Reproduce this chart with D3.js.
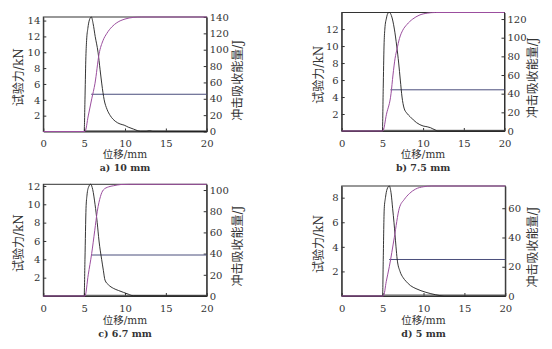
<!DOCTYPE html>
<html><head><meta charset="utf-8">
<script src="https://cdn.jsdelivr.net/npm/d3@7"></script>
<style>
html,body{margin:0;padding:0;background:#fff;}
svg{display:block;}
text{fill:#333;}
</style></head>
<body>
<svg id="chart" width="552" height="349"></svg>
<script>
// ---- data ----
const captions = ["a) 10 mm", "b) 7.5 mm", "c) 6.7 mm", "d) 5 mm"];
const xTicks = [0, 5, 10, 15, 20];
const forceTicks = [[2,4,6,8,10,12,14],[2,4,6,8,10,12],[2,4,6,8,10,12],[2,4,6,8]];
const energyTicks = [[0,20,40,60,80,100,120,140],[0,20,40,60,80,100,120],[0,20,40,60,80,100],[0,20,40,60]];
const forceMax = [14.45, 13.95, 12.18, 8.95];
const energyMax = [140, 127, 105.4, 75.2];
const hLevel = [4.7, 4.85, 4.47, 2.97];
const hStart = [5.86, 5.98, 5.9, 5.8];
const baseLevel = [0.08, 0.08, 0.08, 0.08];

const forceA = [[0,0],[5.0,0],[5.1,4],[5.2,9],[5.3,11.5],[5.45,13],[5.65,14.1],[5.88,14.45],[6.1,13.6],[6.35,12],[6.7,10],[6.95,7.8],[7.16,6],[7.45,4],[7.8,2.8],[8.2,2.0],[8.8,1.3],[9.4,0.95],[9.9,0.8],[10.4,0.55],[11.05,0.3],[11.5,0.12],[11.9,0.03],[12.6,0.03],[13.0,0.1],[13.4,0.02],[20,0]];
const energyA = [[0,0],[5.1,0],[5.5,19],[5.93,40],[6.33,59],[6.83,95],[7.3,111],[7.78,120],[8.4,128],[9.0,133],[10,137.5],[11,139.5],[12,140],[20,140]];

const forceB = [[0,0],[5.0,0],[5.1,5],[5.2,10],[5.3,12],[5.5,13.3],[5.7,13.9],[5.86,13.95],[6.1,13.6],[6.47,12],[6.76,10],[7.0,8],[7.2,6],[7.41,4],[7.66,2.7],[8.0,2.1],[8.4,1.69],[9.2,0.98],[10.0,0.59],[10.5,0.5],[10.9,0.39],[11.2,0.25],[11.5,0.12],[11.8,0],[20,0]];
const energyB = [[0,0],[5.05,0],[5.5,18],[6.06,40],[6.3,60],[6.56,78],[6.8,88],[7.09,99],[7.5,108],[8.0,114],[8.73,120],[9.5,124],[10.5,126.3],[11.5,127],[20,127]];

const forceC = [[0,0],[5.0,0],[5.1,4],[5.23,9.56],[5.35,11],[5.55,11.9],[5.8,12.18],[6.05,11.6],[6.33,10],[6.6,8],[6.82,6],[7.14,4],[7.35,2.8],[7.55,1.74],[8.0,1.2],[8.57,0.84],[9.2,0.6],[9.8,0.4],[10.4,0.2],[11.0,0.03],[20,0]];
const energyC = [[0,0],[5.1,0],[5.5,20],[5.92,40],[6.3,62],[6.61,80],[7.0,94],[7.34,100],[8.0,103],[8.57,104],[9.5,105.2],[10.5,105.4],[20,105.4]];

const forceD = [[0,0],[5.0,0],[5.08,3],[5.2,7.1],[5.35,8],[5.55,8.7],[5.82,8.95],[6.05,8.3],[6.23,7.1],[6.39,6],[6.64,4],[6.78,3.0],[7.13,2],[7.5,1.5],[7.86,1.2],[8.4,0.85],[9.08,0.6],[10.3,0.3],[11.5,0.1],[12.5,0],[20,0]];
const energyD = [[0,0],[5.1,0],[5.45,10],[5.82,20],[6.43,40],[7.04,60],[7.65,66],[8.27,70],[9.0,73],[10,74.7],[11,75.2],[20,75.2]];

const forceSeries = [forceA, forceB, forceC, forceD];
const energySeries = [energyA, energyB, energyC, energyD];

// ---- layout ----
const layout = [
  {l:43.3, r:206.7, t:17,    b:131.5, tickOff:8,  titleY:154,   capY:167.5, ylx:19,    yrx:237.3},
  {l:341.7,r:504.5, t:12.5,  b:131,   tickOff:8.5,titleY:154,   capY:167.5, ylx:318.7, yrx:532.7},
  {l:43.3, r:206.7, t:184.3, b:296,   tickOff:9,  titleY:320,   capY:334,   ylx:19,    yrx:237.3},
  {l:341.7,r:505.3, t:186,   b:296,   tickOff:9,  titleY:320,   capY:334,   ylx:318.7, yrx:532.7}
];

const svg = d3.select("#chart");
const numFont = "'DejaVu Serif', 'Liberation Serif', serif";
const cjkFont = "'DejaVu Serif', 'Noto Sans CJK SC', sans-serif";
const axisColor = "#333";

layout.forEach((L, i) => {
  const x = d3.scaleLinear().domain([0, 20]).range([L.l, L.r]);
  const yF = d3.scaleLinear().domain([0, forceMax[i]]).range([L.b, L.t]);
  const yE = d3.scaleLinear().domain([0, energyMax[i]]).range([L.b, L.t]);
  const g = svg.append("g");

  const lineF = d3.line().x(d => x(d[0])).y(d => yF(d[1])).curve(d3.curveMonotoneX);
  const lineE = d3.line().x(d => x(d[0])).y(d => yE(d[1])).curve(d3.curveMonotoneX);

  // frame
  g.append("rect").attr("x", L.l).attr("y", L.t)
    .attr("width", L.r - L.l).attr("height", L.b - L.t)
    .attr("fill", "none").attr("stroke", axisColor).attr("stroke-width", 1);

  // axes
  const ax = g.append("g").attr("transform", `translate(0,${L.b})`)
    .call(d3.axisBottom(x).tickValues(xTicks).tickSize(-3).tickSizeOuter(0).tickPadding(L.tickOff));
  const al = g.append("g").attr("transform", `translate(${L.l},0)`)
    .call(d3.axisLeft(yF).tickValues(forceTicks[i]).tickSize(-3).tickSizeOuter(0).tickPadding(3));
  const ar = g.append("g").attr("transform", `translate(${L.r},0)`)
    .call(d3.axisRight(yE).tickValues(energyTicks[i]).tickSize(-3).tickSizeOuter(0).tickPadding(3));
  [ax, al, ar].forEach(a => {
    a.select(".domain").attr("stroke", axisColor);
    a.selectAll(".tick line").attr("stroke", axisColor);
    a.selectAll(".tick text").attr("font-family", numFont).attr("font-size", 10).attr("fill", "#333");
  });

  // baseline line near zero
  g.append("path")
    .attr("d", d3.line()([[x(5.1), yF(baseLevel[i])],[x(20), yF(baseLevel[i])]]))
    .attr("stroke", "#555").attr("stroke-width", 1).attr("fill", "none");

  // horizontal level line
  g.append("path")
    .attr("d", d3.line()([[x(hStart[i]), yF(hLevel[i])],[x(20), yF(hLevel[i])]]))
    .attr("stroke", "#4a4e7c").attr("stroke-width", 1).attr("fill", "none");

  // force curve
  g.append("path").datum(forceSeries[i]).attr("d", lineF)
    .attr("stroke", "#1e1e1e").attr("stroke-width", 0.9).attr("fill", "none");

  // energy curve
  g.append("path").datum(energySeries[i]).attr("d", lineE)
    .attr("stroke", "#9b4e9e").attr("stroke-width", 1).attr("fill", "none");

  const cx = (L.l + L.r) / 2;
  // x title
  g.append("text").attr("x", cx).attr("y", L.titleY).attr("dy", "0.35em")
    .attr("text-anchor", "middle").attr("font-family", cjkFont).attr("font-size", 10.5)
    .text("位移/mm");
  // caption
  g.append("text").attr("x", cx).attr("y", L.capY).attr("dy", "0.35em")
    .attr("text-anchor", "middle").attr("font-family", numFont).attr("font-weight", "bold")
    .attr("font-size", 9.5).attr("fill", "#222").text(captions[i]);
  // left title
  const ym = (L.t + L.b) / 2;
  g.append("text").attr("transform", `translate(${L.ylx},${ym + 3}) rotate(-90)`)
    .attr("dy", "0.35em").attr("text-anchor", "middle")
    .attr("font-family", cjkFont).attr("font-size", 12).text("试验力/kN");
  // right title
  g.append("text").attr("transform", `translate(${L.yrx},${ym + 6}) rotate(-90)`)
    .attr("dy", "0.35em").attr("text-anchor", "middle")
    .attr("font-family", cjkFont).attr("font-size", 12).text("冲击吸收能量/J");
});
</script>
</body></html>
